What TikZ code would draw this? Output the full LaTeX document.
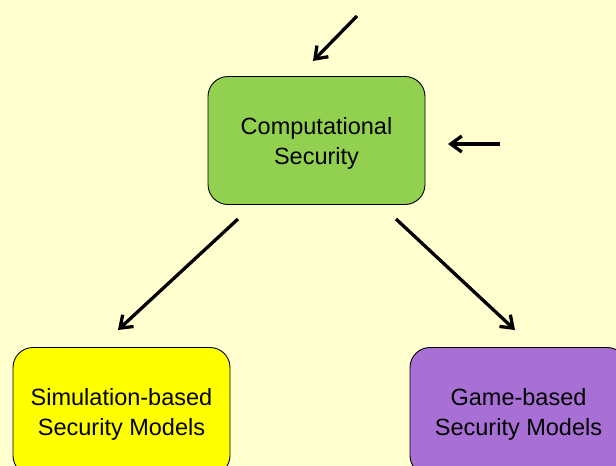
\documentclass[tikz,border=0pt]{standalone}
\usepackage{fontspec}
\setmainfont{Liberation Sans}
\usetikzlibrary{arrows.meta}
\definecolor{bgpale}{RGB}{255,255,208}
\definecolor{boxgreen}{RGB}{146,208,80}
\definecolor{boxyellow}{RGB}{255,255,0}
\definecolor{boxpurple}{RGB}{168,112,212}
\tikzset{
  model/.style={draw=black, line width=0.9pt, rounded corners=20pt,
    minimum width=217pt, minimum height=128pt, align=center,
    font=\fontsize{23.5}{30}\selectfont, text=black, inner sep=0pt,
    text depth=-2pt},
  flow/.style={line width=3.3pt, -{Straight Barb[length=11pt,width=16pt,line width=3.3pt]}}
}
\begin{document}
\begin{tikzpicture}[x=1pt, y=-1pt]
  \clip (0,0) rectangle (616,466);
  \fill[bgpale] (0,0) rectangle (616,466);

  % main boxes
  \node[model, fill=boxgreen] (comp) at (316.5,140.5) {Computational\\Security};
  \node[model, fill=boxyellow] (sim) at (121.5,411.5) {Simulation-based\\Security Models};
  \node[model, fill=boxpurple] (game) at (518.5,411.5) {Game-based\\Security Models};

  % arrow end points
  \coordinate (topS) at (357,16);
  \coordinate (topE) at (313,61);
  \coordinate (rightS) at (500,144);
  \coordinate (rightE) at (448,144);
  \coordinate (leftS) at (238,219);
  \coordinate (leftE) at (118,330);
  \coordinate (gameS) at (396,219);
  \coordinate (gameE) at (515,330);

  \draw[flow] (topS) -- (topE);
  \draw[flow] (rightS) -- (rightE);
  \draw[flow] (leftS) -- (leftE);
  \draw[flow] (gameS) -- (gameE);
\end{tikzpicture}
\end{document}
